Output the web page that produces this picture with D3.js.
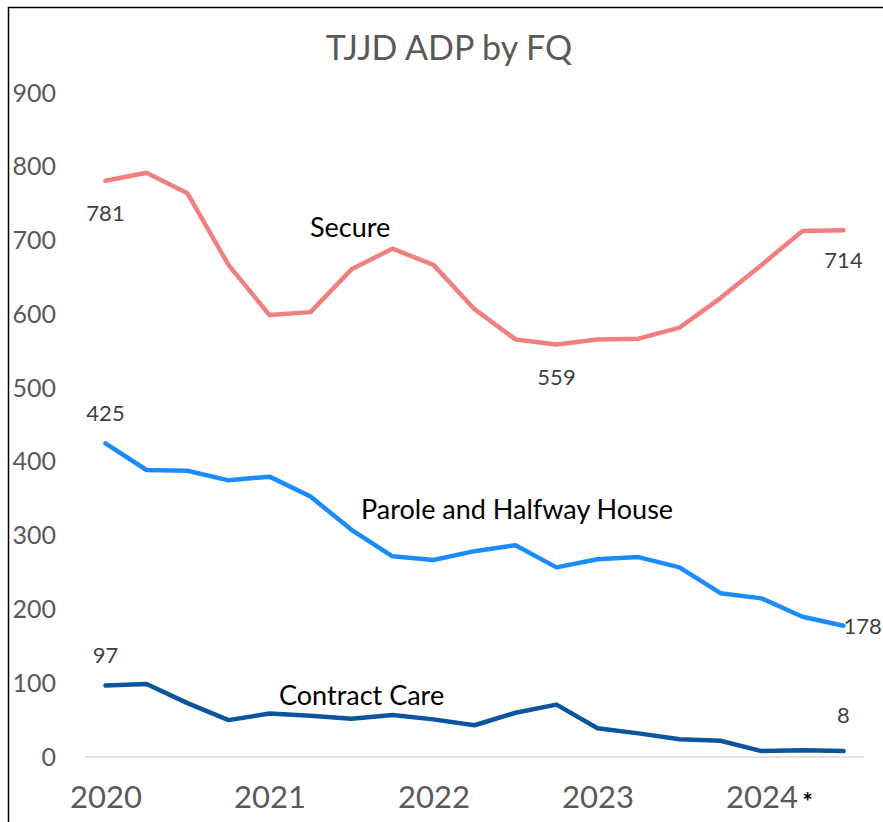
<!DOCTYPE html>
<html>
<head>
<meta charset="utf-8">
<script src="https://cdn.jsdelivr.net/npm/d3@7"></script>
<style>
  body { margin: 0; background: #fff; }
  svg text { font-family: Lato, "Noto Sans", sans-serif; }
  .domain { display: none; }
  .tick line { display: none; }
</style>
</head>
<body>
<div id="chart"></div>
<script>
  // fiscal quarters, 2020 Q1 .. 2024 Q3
  const quarters = d3.range(19).map(i => `${2020 + Math.floor(i / 4)}Q${(i % 4) + 1}`);
  const yearTicks = ['2020Q1', '2021Q1', '2022Q1', '2023Q1', '2024Q1'];

  const secure = [781, 792, 764, 667, 599, 603, 661, 689, 667, 607, 566, 559, 566, 567, 582, 622, 667, 713, 714];
  const parole = [425, 389, 388, 375, 380, 353, 308, 272, 267, 279, 287, 257, 268, 271, 257, 222, 215, 190, 178];
  const contract = [97, 99, 73, 50, 59, 56, 52, 57, 51, 43, 60, 71, 39, 32, 24, 22, 8, 9, 8];
  const yTicks = [0, 100, 200, 300, 400, 500, 600, 700, 800, 900];

  const W = 883, H = 822;

  const svg = d3.select('#chart').append('svg')
    .attr('width', W).attr('height', H);

  // chart frame
  svg.append('rect')
    .attr('x', 8.5).attr('y', 7.5)
    .attr('width', W).attr('height', H)
    .attr('fill', 'none').attr('stroke', '#000').attr('stroke-width', 1.5);

  const x = d3.scalePoint()
    .domain(quarters)
    .range([85, 864])
    .padding(0.5);

  const y = d3.scaleLinear()
    .domain([0, 900])
    .range([757, 93]);

  svg.append('text')
    .attr('x', 449).attr('y', 60)
    .attr('text-anchor', 'middle')
    .attr('font-size', 34)
    .attr('fill', '#595959')
    .text('TJJD ADP by FQ');

  // y axis labels
  svg.append('g')
    .attr('transform', 'translate(56,0)')
    .call(d3.axisLeft(y).tickValues(yTicks).tickSize(0).tickPadding(0))
    .call(g => g.selectAll('text')
      .attr('font-size', 25).attr('fill', '#595959')
      .attr('font-family', 'Lato, "Noto Sans", sans-serif'));

  // baseline
  svg.append('line')
    .attr('x1', 85).attr('x2', 864)
    .attr('y1', y(0)).attr('y2', y(0))
    .attr('stroke', '#d9d9d9').attr('stroke-width', 1.5);

  // x axis year labels
  svg.append('g')
    .attr('transform', `translate(0,${y(0)})`)
    .call(d3.axisBottom(x).tickValues(yearTicks).tickFormat(d => d.slice(0, 4)).tickSize(0).tickPadding(29))
    .call(g => g.selectAll('text')
      .attr('font-size', 31).attr('fill', '#595959')
      .attr('font-family', 'Lato, "Noto Sans", sans-serif'));

  svg.append('text')
    .attr('x', x('2024Q1') + 46).attr('y', 803)
    .attr('dy', '0.35em')
    .attr('text-anchor', 'middle')
    .attr('font-size', 24).attr('font-weight', 'bold')
    .attr('fill', '#000')
    .text('*');

  const line = d3.line()
    .x((d, i) => x(quarters[i]))
    .y(d => y(d));

  const series = [
    { name: 'Secure', values: secure, color: '#F08080' },
    { name: 'Parole and Halfway House', values: parole, color: '#1A8CFF' },
    { name: 'Contract Care', values: contract, color: '#0B559F' }
  ];

  svg.selectAll('path.series')
    .data(series)
    .join('path')
    .attr('class', 'series')
    .attr('fill', 'none')
    .attr('stroke', d => d.color)
    .attr('stroke-width', 4.5)
    .attr('stroke-linejoin', 'round')
    .attr('stroke-linecap', 'round')
    .attr('d', d => line(d.values));

  // point labels: [series values, index, dx, dy, anchor]
  const labels = [
    [secure, 0, 0, 40, 'middle'],
    [secure, 11, 0, 40, 'middle'],
    [secure, 18, 0, 38, 'middle'],
    [parole, 0, 0, -22, 'middle'],
    [parole, 18, 0, 8, 'start'],
    [contract, 0, 0, -22, 'middle'],
    [contract, 18, 0, -28, 'middle']
  ];

  svg.selectAll('text.val')
    .data(labels)
    .join('text')
    .attr('class', 'val')
    .attr('x', d => x(quarters[d[1]]) + d[2])
    .attr('y', d => y(d[0][d[1]]) + d[3])
    .attr('text-anchor', d => d[4])
    .attr('font-size', 22)
    .attr('fill', '#404040')
    .text(d => d[0][d[1]]);

  // series names: [text, value level, left x]
  const names = [
    ['Secure', 717, 310],
    ['Parole and Halfway House', 336, 361],
    ['Contract Care', 83, 279]
  ];

  svg.selectAll('text.name')
    .data(names)
    .join('text')
    .attr('class', 'name')
    .attr('x', d => d[2])
    .attr('y', d => y(d[1]))
    .attr('dy', '0.35em')
    .attr('font-size', 27)
    .attr('fill', '#000')
    .text(d => d[0]);
</script>
</body>
</html>
